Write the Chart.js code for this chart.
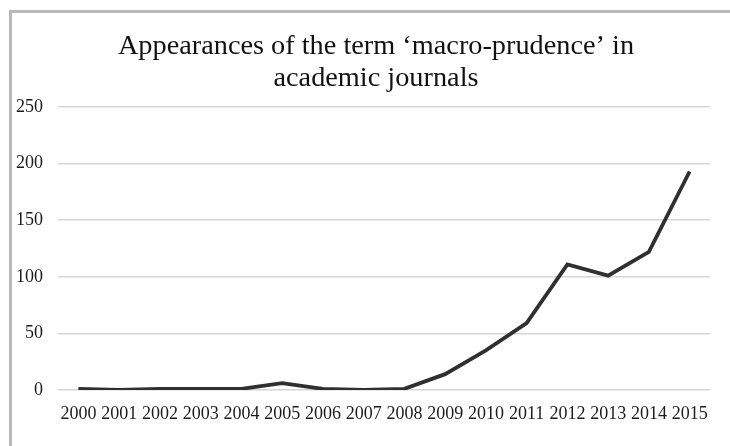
<!DOCTYPE html>
<html>
<head>
<meta charset="utf-8">
<script src="https://cdn.jsdelivr.net/npm/chart.js@4"></script>
<style>
  html, body { margin: 0; padding: 0; background: #fff; }
  #wrap { position: relative; width: 730px; height: 446px; overflow: hidden; }
  #frame {
    position: absolute; left: 9px; top: 10px; width: 740px; height: 460px;
    border-top: 3px solid #b8b8b8; border-left: 3px solid #b8b8b8;
  }
  #c { position: absolute; left: 0; top: 0; }
</style>
</head>
<body>
<div id="wrap">
  <div id="frame"></div>
  <canvas id="c" width="730" height="446"></canvas>
</div>
<script>
// 数据
const years = ['2000', '2001', '2002', '2003', '2004', '2005', '2006', '2007',
               '2008', '2009', '2010', '2011', '2012', '2013', '2014', '2015'];
const appearances = [1, 0, 1, 1, 1, 6, 1, 0, 1, 14, 35, 59, 111, 101, 122, 193];
const yTicks = [0, 50, 100, 150, 200, 250];
const titleLines = ['Appearances of the term \u2018macro-prudence\u2019 in', 'academic journals'];

const serif = '"Liberation Serif", "Times New Roman", serif';

// 标题稍微偏左一点居中 (原图标题不是以整张图居中)
const titleShift = {
    id: 'titleShift',
    afterLayout(chart) {
        if (chart.titleBlock) chart.titleBlock.left = 42;
    }
};

const ctx = document.getElementById('c').getContext('2d');
new Chart(ctx, {
    type: 'line',
    data: {
        labels: years,
        datasets: [{
            data: appearances,
            borderColor: '#303030',
            borderWidth: 3.8,
            pointRadius: 0,
            tension: 0,
            fill: false
        }]
    },
    options: {
        responsive: false,
        animation: false,
        layout: { padding: { left: 0, right: 20, top: 0, bottom: 0 } },
        plugins: {
            legend: { display: false },
            tooltip: { enabled: false },
            title: {
                display: true,
                text: titleLines,
                color: '#111',
                font: { family: serif, size: 28.3, weight: 'normal', lineHeight: 1.1 },
                padding: { top: 31.4, bottom: 13.3 }
            }
        },
        scales: {
            x: {
                offset: true,
                grid: { display: false, drawTicks: false },
                border: { display: false },
                ticks: {
                    color: '#1c1c1c',
                    font: { family: serif, size: 18 },
                    padding: 13,
                    maxRotation: 0,
                    autoSkip: false
                },
                afterFit: s => { s.height = 56; }
            },
            y: {
                min: 0,
                max: 250,
                afterBuildTicks: s => { s.ticks = yTicks.map(v => ({ value: v })); },
                grid: { color: '#d6d6d6', lineWidth: 1.5, drawTicks: false },
                border: { display: false },
                ticks: {
                    color: '#1c1c1c',
                    font: { family: serif, size: 18 },
                    padding: 15
                },
                afterFit: s => { s.width = 58; }
            }
        }
    },
    plugins: [titleShift]
});
</script>
</body>
</html>
